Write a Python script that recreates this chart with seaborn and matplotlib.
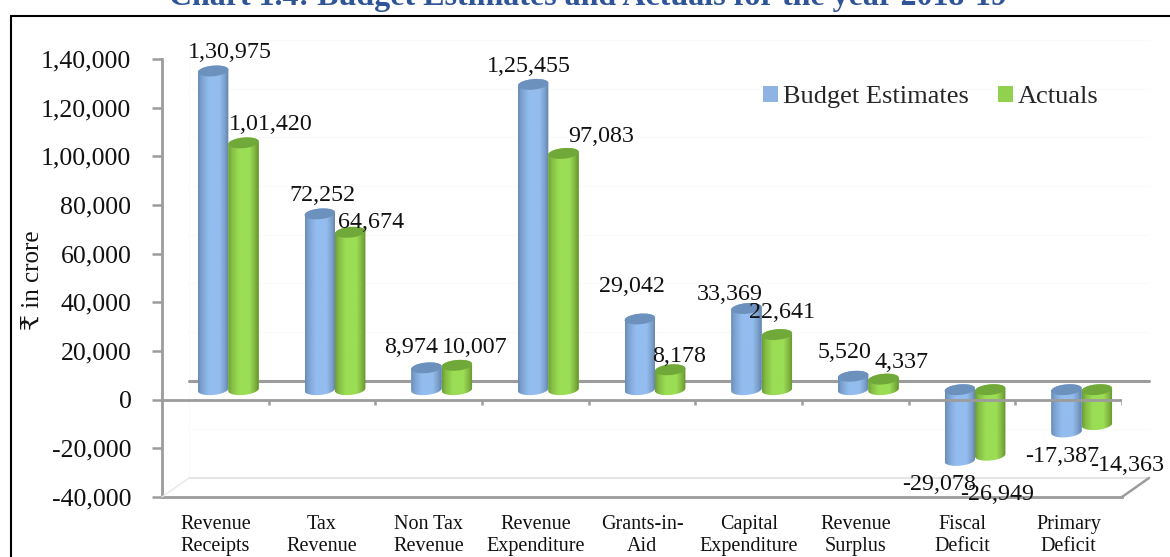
import numpy as np
import pandas as pd
import matplotlib
matplotlib.use('Agg')
import matplotlib.pyplot as plt
import seaborn as sns
from matplotlib.colors import LinearSegmentedColormap
from matplotlib.lines import Line2D
from matplotlib.patches import Polygon
from matplotlib.path import Path
from matplotlib.transforms import Affine2D

# Data
categories = ['Revenue\nReceipts', 'Tax\nRevenue', 'Non Tax\nRevenue', 'Revenue\nExpenditure',
              'Grants-in-\nAid', 'Capital\nExpenditure', 'Revenue\nSurplus', 'Fiscal\nDeficit', 'Primary\nDeficit']
budget = [130975, 72252, 8974, 125455, 29042, 33369, 5520, -29078, -17387]
actuals = [101420, 64674, 10007, 97083, 8178, 22641, 4337, -26949, -14363]
y_ticks = [-40000, -20000, 0, 20000, 40000, 60000, 80000, 100000, 120000, 140000]

# Label offsets from the top of each bar, in pixels
budget_offsets = [(17, 18), (3, 18), (-15, 20), (-4, 18), (-8, 32), (-17, 14), (-9, 24), (-21, -24), (-4, -25)]
actual_offsets = [(27, 18), (21, 10), (18, 18), (38, 17), (9, 13), (5, 22), (18, 17), (7, -39), (30, -41)]


def indian(v):
    # 130975 -> 1,30,975
    s = str(abs(int(v)))
    if len(s) > 3:
        head, tail = s[:-3], s[-3:]
        parts = []
        while len(head) > 2:
            parts.insert(0, head[-2:])
            head = head[:-2]
        parts.insert(0, head)
        s = ','.join(parts) + ',' + tail
    return ('-' if v < 0 else '') + s


sns.set_style('white')
plt.rcParams['font.family'] = ['Liberation Serif', 'DejaVu Serif']

df = pd.DataFrame({
    'Category': categories * 2,
    'Value': budget + actuals,
    'Series': ['Budget Estimates'] * 9 + ['Actuals'] * 9,
})

fig = plt.figure(figsize=(11.7, 5.57), dpi=100)
ax = fig.add_axes([162 / 1170, 1 - 497 / 557, 960 / 1170, 438 / 557])

palette = {'Budget Estimates': '#8FB4E3', 'Actuals': '#92D050'}
sns.barplot(data=df, x='Category', y='Value', hue='Series', palette=palette, width=0.57,
            gap=0, saturation=1, errorbar=None, ax=ax, linewidth=0)

ax.set_xlim(-0.5, 8.5)
ax.set_ylim(-40000, 140000)

# depth of the fake 3D box, bars stand part way in
back = ax.transData + Affine2D().translate(27, 19)
mid = ax.transData + Affine2D().translate(13, 10)

grey = '#9C9C9C'
left, right = ax.get_xlim()

# back wall
for t in y_ticks[1:]:
    if t != 0:
        ax.plot([left, right], [t, t], color='#FAFAFA', lw=1, transform=back, zorder=0, clip_on=False)
ax.plot([left, left], [-40000, 140000], color='#FAFAFA', lw=1, transform=back, zorder=0, clip_on=False)
ax.plot([left, right], [-40000, -40000], color='#E4E4E4', lw=1.5, transform=back, zorder=0.5, clip_on=False)
ax.plot([left, right], [0, 0], color=grey, lw=2.2, transform=back, zorder=1, clip_on=False)

# floor diagonals
fx, fy = back.transform((right, -40000))
gx, gy = ax.transData.transform((right, -40000))
fig.add_artist(Line2D([gx / 1170, fx / 1170], [gy / 557, fy / 557], color=grey, lw=1.8))
fx, fy = back.transform((left, -40000))
gx, gy = ax.transData.transform((left, -40000))
fig.add_artist(Line2D([gx / 1170, fx / 1170], [gy / 557, fy / 557], color='#E8E8E8', lw=1))

blue_cmap = LinearSegmentedColormap.from_list('b', [(0, '#6A8DB8'), (0.12, '#7EA3D2'), (0.35, '#93BDEE'),
                                                   (0.7, '#93BDEE'), (0.88, '#7C9FCB'), (1, '#5F81A9')])
green_cmap = LinearSegmentedColormap.from_list('g', [(0, '#6E9E35'), (0.12, '#85BE45'), (0.35, '#9BDD55'),
                                                    (0.7, '#9BDD55'), (0.88, '#80B540'), (1, '#62902E')])
cap_colors = ['#6D91BD', '#71A83A']
cmaps = [blue_cmap, green_cmap]
px_y = 180000 / 438
cap_b = 5.3 * px_y
tilt = 1.3 * px_y
gradient = np.linspace(0, 1, 64).reshape(1, -1)
t = np.linspace(0, np.pi, 40)

for s, (container, values, offsets) in enumerate(zip(ax.containers, [budget, actuals],
                                                     [budget_offsets, actual_offsets])):
    z = 3 + s
    for bar, v, off in zip(container, values, offsets):
        cx = bar.get_x() + bar.get_width() / 2
        a = bar.get_width() / 2
        cap_y = max(v, 0)
        foot_y = min(v, 0)

        # side of the cylinder: lower half of the foot, upper half of the cap
        xs_foot = cx - a * np.cos(t)
        ys_foot = foot_y - cap_b * np.sin(t) + tilt * (-np.cos(t))
        xs_cap = cx + a * np.cos(t)
        ys_cap = cap_y + cap_b * np.sin(t) + tilt * np.cos(t)
        outline = np.column_stack([np.r_[xs_foot, xs_cap], np.r_[ys_foot, ys_cap]])
        path = Path(np.vstack([outline, outline[0]]), closed=True)

        bar.set_transform(mid)
        bar.set_clip_path(path, mid)
        bar.set_zorder(z)

        im = ax.imshow(gradient, cmap=cmaps[s], aspect='auto', interpolation='bilinear',
                       extent=(cx - a, cx + a, foot_y - 2 * cap_b, cap_y + 2 * cap_b),
                       transform=mid, zorder=z)
        im.set_clip_path(path, mid)

        # top cap
        tt = np.linspace(0, 2 * np.pi, 80)
        cap = np.column_stack([cx + a * np.cos(tt), cap_y + cap_b * np.sin(tt) + tilt * np.cos(tt)])
        ax.add_patch(Polygon(cap, closed=True, facecolor=cap_colors[s], edgecolor='none',
                             transform=mid, zorder=z + 0.1))

        ax.annotate(indian(v), xy=(cx, v), xycoords=mid, xytext=off, textcoords='offset pixels',
                    ha='center', va='center', fontsize=17.3, color='#111111', zorder=10)

ax.set_xlim(left, right)
ax.set_ylim(-40000, 140000)

# axes, drawn the way the picture has them
sns.despine(ax=ax, top=True, right=True)
for side in ['left', 'bottom']:
    ax.spines[side].set_color(grey)
    ax.spines[side].set_linewidth(2)
ax.axhline(0, color=grey, lw=2, zorder=8)
edges = np.arange(0.5, 9.5)
ax.vlines(edges, -5 * px_y, 0, color=grey, lw=1.8, zorder=8)

ax.set_yticks(y_ticks)
ax.set_yticklabels([indian(v) for v in y_ticks], fontsize=18.6, color='#111111')
ax.tick_params(axis='y', left=True, length=7, width=1.8, color=grey, pad=15)
ax.tick_params(axis='x', bottom=False, length=0, pad=13, labelsize=14.5, labelcolor='#111111')
ax.set_xlabel('')
ax.set_ylabel('₹ in crore', fontsize=18, color='#111111')
ax.yaxis.set_label_coords(44 / 1170, 1 - 280 / 557, transform=fig.transFigure)

# legend
handles, labels = ax.get_legend_handles_labels()
ax.legend(handles, labels, ncol=2, frameon=False, fontsize=19, handlelength=0.55, handleheight=0.55,
          handletextpad=0.2, columnspacing=1.1, loc='center', borderaxespad=0,
          bbox_to_anchor=(931 / 1170, 1 - 97 / 557), bbox_transform=fig.transFigure)

# title and frame, the source picture is cropped through both
fig.text(588 / 1170, 1 - 5 / 557, 'Chart 1.4: Budget Estimates and Actuals for the year 2018-19',
         ha='center', va='baseline', fontsize=23, fontweight='bold', color='#2F5597')
fig.add_artist(Line2D([11 / 1170, 11 / 1170], [0, 1 - 16 / 557], color='black', lw=1.5))
fig.add_artist(Line2D([11 / 1170, 1], [1 - 16 / 557, 1 - 16 / 557], color='black', lw=1.5))

fig.savefig('out.png', dpi=100)
